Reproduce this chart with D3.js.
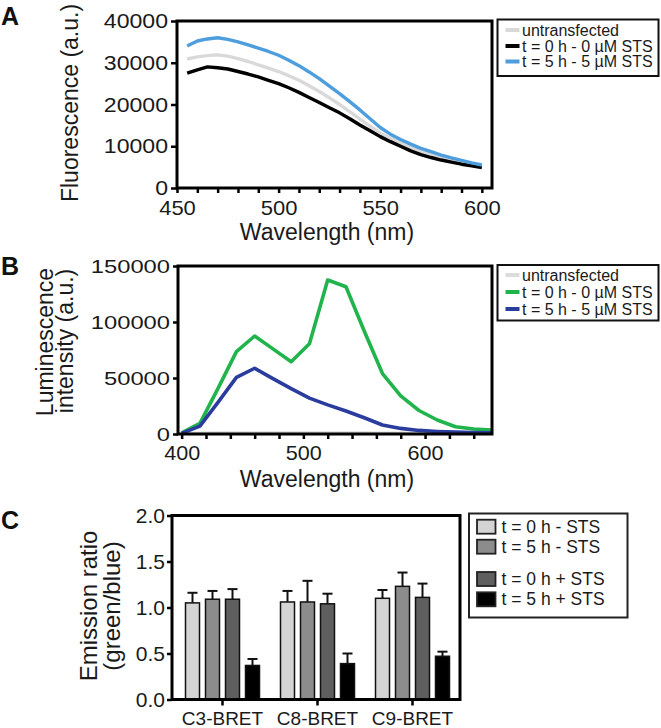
<!DOCTYPE html>
<html><head><meta charset="utf-8">
<script src="https://cdn.jsdelivr.net/npm/d3@7"></script>
<style>
body{margin:0;background:#fff;}
svg{display:block;}
</style></head><body>
<svg id="chart" width="661" height="728"></svg>
<script>
// ---------- Panel A data ----------
const wavelengthsA = [455,460,465,470,475,480,485,490,495,500,505,510,515,520,525,530,535,540,545,550,555,560,565,570,575,580,585,590,595,600];
const fluorUntransfected = [30900,31400,31700,31900,31600,31000,30300,29500,28700,27900,26900,25800,24500,23100,21600,20000,18300,16500,14800,13200,11900,10800,9800,8900,8100,7400,6800,6200,5700,5200];
const fluorT0 = [27500,28300,29000,28800,28500,27900,27300,26600,25800,25000,24000,22900,21700,20500,19200,18000,16600,15100,13700,12300,11100,10000,8900,8000,7300,6700,6200,5700,5300,4900];
const fluorT5 = [34000,35200,35700,36000,35600,35000,34300,33500,32700,31800,30600,29300,27800,26200,24400,22600,20700,18700,16600,14500,12900,11600,10500,9500,8700,7900,7200,6600,6000,5500];
const seriesNamesA = ["untransfected","t = 0 h - 0 µM STS","t = 5 h - 5 µM STS"];
const ticksYA = [0,10000,20000,30000,40000];
const ticksXA = [450,460,470,480,490,500,510,520,530,540,550,560,570,580,590,600];
const labelsXA = [450,500,550,600];

// ---------- Panel B data ----------
const wavelengthsB = [400,415,430,445,460,475,490,505,520,535,550,565,580,595,610,625,640,655];
const lumUntransfected = [400,600,800,900,900,900,900,900,800,800,800,700,700,600,600,500,500,500];
const lumT0 = [1000,9500,41000,73500,87500,76000,64500,80500,137500,131500,92000,54000,34000,21000,12500,6500,4500,3500];
const lumT5 = [500,7000,28500,50500,58700,49500,40500,32000,26000,20500,14500,8000,5000,3200,2300,1700,1300,1000];
const seriesNamesB = ["untransfected","t = 0 h - 0 µM STS","t = 5 h - 5 µM STS"];
const ticksYB = [0,50000,100000,150000];
const ticksXB = [400,420,440,460,480,500,520,540,560,580,600,620,640];
const labelsXB = [400,500,600];

// ---------- Panel C data ----------
const constructs = ["C3-BRET","C8-BRET","C9-BRET"];
const conditions = ["t = 0 h - STS","t = 5 h - STS","t = 0 h + STS","t = 5 h + STS"];
const ratioT0minus = [1.05,1.06,1.10];
const errT0minus   = [0.11,0.12,0.09];
const ratioT5minus = [1.09,1.06,1.23];
const errT5minus   = [0.09,0.23,0.15];
const ratioT0plus  = [1.09,1.04,1.11];
const errT0plus    = [0.11,0.11,0.15];
const ratioT5plus  = [0.37,0.39,0.47];
const errT5plus    = [0.07,0.11,0.05];
const ticksYC = [0,0.5,1.0,1.5,2.0];

// ---------- styling ----------
const FONT = '"Liberation Sans", Arial, Helvetica, sans-serif';
const colorsA = ["#d9d9d9","#000000","#4e9ddc"];
const colorsB = ["#dcdcdc","#22b44c","#2a3d9e"];
const barColors = ["#d4d4d4","#8c8c8c","#5f5f5f","#000000"];

const svg = d3.select("#chart").attr("font-family", FONT);

function styleTicks(g, fs, sx, side, ts, pad) {
  g.select(".domain").remove();
  g.selectAll(".tick line").attr("stroke","#000").attr("stroke-width",2.5);
  const t = g.selectAll(".tick text").attr("font-size",fs).attr("fill","#1a1a1a").attr("font-family",FONT);
  if (side === "left") {
    t.attr("x", -(ts+pad)/sx).attr("transform",`scale(${sx},1)`);
  } else {
    t.attr("transform",`scale(${sx},1)`);
  }
}

function panelLetter(txt, x, y) {
  svg.append("text").attr("x",x).attr("y",y).attr("font-size",25).attr("font-weight","bold")
    .attr("fill","#111").text(txt);
}

function lineLegend(x, y, w, h, names, colors, rows) {
  const g = svg.append("g");
  g.append("rect").attr("x",x).attr("y",y).attr("width",w).attr("height",h)
    .attr("fill","#fff").attr("stroke","#111").attr("stroke-width",2);
  names.forEach((n,i) => {
    g.append("line").attr("x1",x+8).attr("x2",x+22).attr("y1",rows[i]).attr("y2",rows[i])
      .attr("stroke",colors[i]).attr("stroke-width",4);
    g.append("text").attr("x",x+24.5).attr("y",rows[i]+5.5).attr("font-size",16).attr("fill","#1a1a1a").text(n);
  });
}

// ================= Panel A =================
{
  const L=177, R=492, T=21, B=188;
  const x = d3.scaleLinear().domain([450,605]).range([L,R]);
  const y = d3.scaleLinear().domain([0,40000]).range([B,T]);
  const g = svg.append("g");
  const series = [fluorUntransfected, fluorT0, fluorT5];
  const line = d3.line().x((d,i)=>x(wavelengthsA[i])).y(d=>y(d));
  series.forEach((s,k)=>{
    g.append("path").datum(s).attr("d",line).attr("fill","none")
      .attr("stroke",colorsA[k]).attr("stroke-width",3.4).attr("stroke-linejoin","round");
  });
  g.append("rect").attr("x",L).attr("y",T).attr("width",R-L).attr("height",B-T)
    .attr("fill","none").attr("stroke","#000").attr("stroke-width",3);
  const ay = g.append("g").attr("transform",`translate(${L},0)`)
    .call(d3.axisLeft(y).tickValues(ticksYA).tickSize(6).tickPadding(3).tickFormat(d3.format("d")));
  styleTicks(ay, 21, 1.1, "left", 6, 3);
  const ax = g.append("g").attr("transform",`translate(0,${B})`)
    .call(d3.axisBottom(x).tickValues(ticksXA).tickSize(5).tickPadding(8)
      .tickFormat(d => labelsXA.includes(d) ? d : ""));
  styleTicks(ax, 20, 1.1, "bottom", 5, 8);
  g.append("text").attr("transform","translate(78,103) rotate(-90)").attr("text-anchor","middle")
    .attr("font-size",23).attr("fill","#1a1a1a").text("Fluorescence (a.u.)");
  g.append("text").attr("x",327).attr("y",240).attr("text-anchor","middle")
    .attr("font-size",23).attr("fill","#1a1a1a").text("Wavelength (nm)");
  panelLetter("A", 1, 25);
  lineLegend(497.5, 19.5, 161, 56.5, seriesNamesA, colorsA, [30, 46, 61.5]);
}

// ================= Panel B =================
{
  const L=178, R=492, T=266, B=434;
  const x = d3.scaleLinear().domain([397,655]).range([L,R]);
  const y = d3.scaleLinear().domain([0,150000]).range([B,T]);
  const g = svg.append("g");
  const series = [lumUntransfected, lumT0, lumT5];
  const line = d3.line().x((d,i)=>x(wavelengthsB[i])).y(d=>y(d));
  series.forEach((s,k)=>{
    g.append("path").datum(s).attr("d",line).attr("fill","none")
      .attr("stroke",colorsB[k]).attr("stroke-width",3.6).attr("stroke-linejoin","round");
  });
  g.append("rect").attr("x",L).attr("y",T).attr("width",R-L).attr("height",B-T)
    .attr("fill","none").attr("stroke","#000").attr("stroke-width",3);
  const ay = g.append("g").attr("transform",`translate(${L},0)`)
    .call(d3.axisLeft(y).tickValues(ticksYB).tickSize(5).tickPadding(3).tickFormat(d3.format("d")));
  styleTicks(ay, 19, 1.25, "left", 5, 3);
  const ax = g.append("g").attr("transform",`translate(0,${B})`)
    .call(d3.axisBottom(x).tickValues(ticksXB).tickSize(5).tickPadding(7)
      .tickFormat(d => labelsXB.includes(d) ? d : ""));
  styleTicks(ax, 20, 1.08, "bottom", 5, 7);
  g.append("text").attr("transform","translate(53,342) rotate(-90)").attr("text-anchor","middle")
    .attr("font-size",23).attr("fill","#1a1a1a").text("Luminescence");
  g.append("text").attr("transform","translate(73,341) rotate(-90)").attr("text-anchor","middle")
    .attr("font-size",23).attr("fill","#1a1a1a").text("intensity (a.u.)");
  g.append("text").attr("x",327).attr("y",487).attr("text-anchor","middle")
    .attr("font-size",23).attr("fill","#1a1a1a").text("Wavelength (nm)");
  panelLetter("B", 1, 275);
  lineLegend(497.5, 265, 161, 55.5, seriesNamesB, colorsB, [275, 292, 309]);
}

// ================= Panel C =================
{
  const L=172, R=460, T=515.5, B=699.5;
  const x0 = d3.scaleBand().domain(constructs).range([175,460]).paddingInner(0).paddingOuter(0);
  const x1 = d3.scaleBand().domain(conditions).range([-40,40]).paddingInner(0.3).paddingOuter(0.15);
  const y = d3.scaleLinear().domain([0,2]).range([B,T]);
  const means = [ratioT0minus, ratioT5minus, ratioT0plus, ratioT5plus];
  const errs = [errT0minus, errT5minus, errT0plus, errT5plus];
  const g = svg.append("g");
  constructs.forEach((c,ci)=>{
    const cx = x0(c) + x0.bandwidth()/2;
    conditions.forEach((cond,k)=>{
      const bx = cx + x1(cond);
      const v = means[k][ci], e = errs[k][ci];
      const mid = bx + x1.bandwidth()/2;
      g.append("line").attr("x1",mid).attr("x2",mid).attr("y1",y(v)).attr("y2",y(v+e))
        .attr("stroke","#111").attr("stroke-width",2);
      g.append("line").attr("x1",mid-5).attr("x2",mid+5).attr("y1",y(v+e)).attr("y2",y(v+e))
        .attr("stroke","#111").attr("stroke-width",2);
      g.append("rect").attr("x",bx).attr("y",y(v)).attr("width",x1.bandwidth()).attr("height",B-y(v))
        .attr("fill",barColors[k]).attr("stroke","#111").attr("stroke-width",1.5);
    });
  });
  g.append("rect").attr("x",L).attr("y",T).attr("width",R-L).attr("height",B-T)
    .attr("fill","none").attr("stroke","#000").attr("stroke-width",3);
  const ay = g.append("g").attr("transform",`translate(${L},0)`)
    .call(d3.axisLeft(y).tickValues(ticksYC).tickSize(5).tickPadding(2).tickFormat(d3.format(".1f")));
  styleTicks(ay, 21, 1.0, "left", 5, 2);
  const ax = g.append("g").attr("transform",`translate(0,${B})`)
    .call(d3.axisBottom(x0).tickSize(6).tickPadding(6));
  styleTicks(ax, 19, 1.0, "bottom", 6, 6);
  g.append("text").attr("transform","translate(97,606) rotate(-90)").attr("text-anchor","middle")
    .attr("font-size",24).attr("fill","#1a1a1a").text("Emission ratio");
  g.append("text").attr("transform","translate(120,606) rotate(-90)").attr("text-anchor","middle")
    .attr("font-size",24).attr("fill","#1a1a1a").text("(green/blue)");
  panelLetter("C", 1, 529);
  // legend
  const lg = svg.append("g");
  lg.append("rect").attr("x",469).attr("y",513.5).attr("width",158.5).attr("height",104)
    .attr("fill","#fff").attr("stroke","#222").attr("stroke-width",2);
  const rows = [526.7, 546.7, 579, 599.3];
  conditions.forEach((cond,k)=>{
    lg.append("rect").attr("x",477).attr("y",rows[k]-7).attr("width",18.5).attr("height",14)
      .attr("fill",barColors[k]).attr("stroke","#222").attr("stroke-width",1.8);
    lg.append("text").attr("x",501.5).attr("y",rows[k]+6).attr("font-size",17.5).attr("fill","#1a1a1a").text(cond);
  });
}
</script>
</body></html>
